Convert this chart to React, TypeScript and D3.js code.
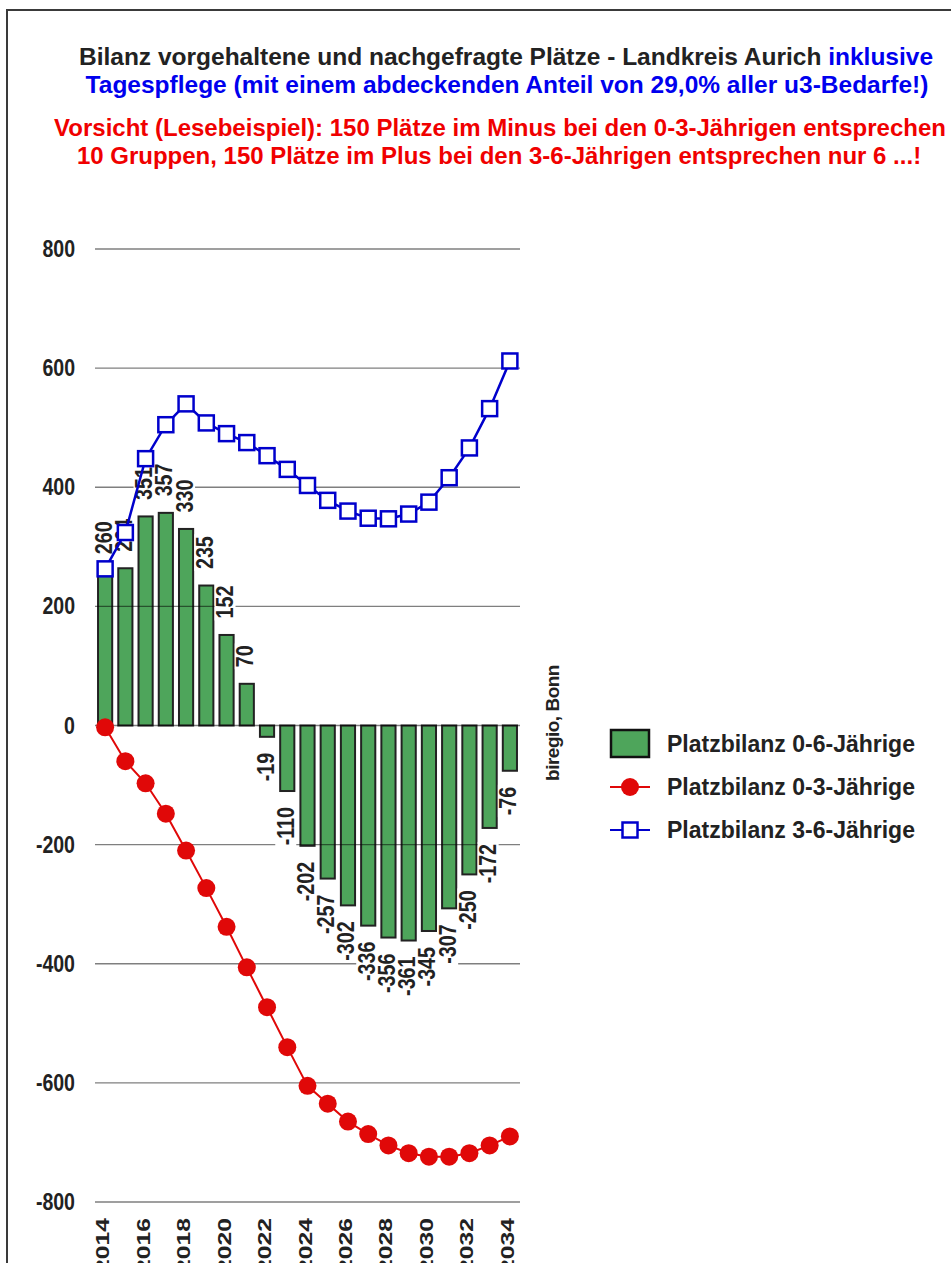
import React from 'react';
import * as d3 from 'd3';

const years = [2014, 2015, 2016, 2017, 2018, 2019, 2020, 2021, 2022, 2023, 2024, 2025, 2026, 2027, 2028, 2029, 2030, 2031, 2032, 2033, 2034];
const balance06 = [260, 264, 351, 357, 330, 235, 152, 70, -19, -110, -202, -257, -302, -336, -356, -361, -345, -307, -250, -172, -76];
const balance03 = [-3, -60, -97, -148, -210, -273, -338, -406, -473, -540, -605, -635, -665, -686, -705, -718, -724, -724, -718, -705, -690];
const balance36 = [263, 324, 448, 505, 540, 508, 490, 475, 453, 430, 403, 378, 360, 348, 347, 355, 375, 416, 466, 532, 612];
const yTicks = [800, 600, 400, 200, 0, -200, -400, -600, -800];
const xTickYears = [2014, 2016, 2018, 2020, 2022, 2024, 2026, 2028, 2030, 2032, 2034];
const titleBlack = 'Bilanz vorgehaltene und nachgefragte Plätze - Landkreis Aurich ';
const titleBlue1 = 'inklusive';
const titleBlue2 = 'Tagespflege (mit einem abdeckenden Anteil von 29,0% aller u3-Bedarfe!)';
const warn1 = 'Vorsicht (Lesebeispiel): 150 Plätze im Minus bei den 0-3-Jährigen entsprechen';
const warn2 = '10 Gruppen, 150 Plätze im Plus bei den 3-6-Jährigen entsprechen nur 6 ...!';
const legendLabels = ['Platzbilanz 0-6-Jährige', 'Platzbilanz 0-3-Jährige', 'Platzbilanz 3-6-Jährige'];
const sourceText = 'biregio, Bonn';

const FONT = '"Liberation Sans", Arial, Helvetica, sans-serif';
const GREEN = '#4ea55b';
const RED = '#e00808';
const BLUE = '#0000cc';

export default function App() {
  const W = 951;
  const H = 1263;
  const x = d3.scaleBand<number>().domain(years).range([95, 520]).paddingInner(0.3).paddingOuter(0.15);
  const y = d3.scaleLinear().domain([-800, 800]).range([1202, 249]);
  const bw = x.bandwidth();
  const cx = (yr: number) => (x(yr) as number) + bw / 2;

  const line = d3.line<[number, number]>().x(d => d[0]).y(d => d[1]);
  const redPts: [number, number][] = years.map((yr, i) => [cx(yr), y(balance03[i])]);
  const bluePts: [number, number][] = years.map((yr, i) => [cx(yr), y(balance36[i])]);

  const LF = 24;
  const LS = 0.82;
  const labelLen = (s: string) => {
    let em = 0;
    for (const ch of s) em += ch === '-' ? 0.333 : 0.556;
    return em * LF * LS;
  };

  return (
    <svg width={W} height={H} style={{ position: 'absolute', left: 0, top: 0, background: '#fff' }} fontFamily={FONT}>
      <rect x={0} y={0} width={W} height={H} fill="#fff" />
      {/* frame */}
      <line x1={7} y1={10} x2={W} y2={10} stroke="#3a3a3a" strokeWidth={2} />
      <line x1={7} y1={9} x2={7} y2={H} stroke="#3a3a3a" strokeWidth={2} />

      {/* titles */}
      <text x={506} y={65} textAnchor="middle" fontSize={24.5} fontWeight="bold" fill="#222">
        <tspan>{titleBlack}</tspan>
        <tspan fill="#0000ee">{titleBlue1}</tspan>
      </text>
      <text x={507} y={93} textAnchor="middle" fontSize={24.5} fontWeight="bold" fill="#0000ee">{titleBlue2}</text>
      <text x={500} y={136} textAnchor="middle" fontSize={24} fontWeight="bold" fill="#f00000">{warn1}</text>
      <text x={499} y={164} textAnchor="middle" fontSize={24} fontWeight="bold" fill="#f00000">{warn2}</text>

      {/* bars */}
      {years.map((yr, i) => {
        const v = balance06[i];
        const y0 = y(Math.max(0, v));
        const y1 = y(Math.min(0, v));
        return (
          <rect key={'b' + yr} x={x(yr)} y={y0} width={bw} height={Math.max(1, y1 - y0)}
            fill={GREEN} stroke="#222" strokeWidth={2} />
        );
      })}

      {/* gridlines */}
      {yTicks.map(t => (
        <line key={'g' + t} x1={95} x2={520} y1={y(t)} y2={y(t)} stroke="#000" strokeOpacity={0.5} strokeWidth={1.4} />
      ))}

      {/* y tick labels */}
      {yTicks.map(t => (
        <text key={'yt' + t} transform={`translate(75,${y(t) + 8}) scale(0.85,1)`} textAnchor="end"
          fontSize={23} fontWeight="bold" fill="#222">{t}</text>
      ))}

      {/* x tick labels */}
      {xTickYears.map(yr => (
        <g key={'xt' + yr} transform={`translate(${cx(yr) + 4},1218) rotate(-90)`}>
          <text transform="scale(1.3,1)" textAnchor="end" fontSize={19} fontWeight="bold" fill="#222">{yr}</text>
        </g>
      ))}

      {/* bar value labels */}
      {years.map((yr, i) => {
        const v = balance06[i];
        const s = String(v);
        const len = labelLen(s);
        const pos = v >= 0;
        const ay = pos ? y(v) - 16.5 : y(v) + 16;
        const bx = cx(yr) + 6.5;
        return (
          <g key={'l' + yr} transform={`translate(${bx},${ay}) rotate(-90)`}>
            <rect x={pos ? -2 : -len - 2} y={-18.5} width={len + 4} height={21} fill="#fff" />
            <text transform={`scale(${LS},1)`} textAnchor={pos ? 'start' : 'end'} fontSize={LF} fontWeight="bold" fill="#222">{s}</text>
          </g>
        );
      })}

      {/* 0-3 line */}
      <path d={line(redPts) || ''} fill="none" stroke={RED} strokeWidth={2} />
      {redPts.map((p, i) => (
        <circle key={'r' + i} cx={p[0]} cy={p[1]} r={9} fill={RED} />
      ))}

      {/* 3-6 line */}
      <path d={line(bluePts) || ''} fill="none" stroke={BLUE} strokeWidth={2.5} />
      {bluePts.map((p, i) => (
        <rect key={'s' + i} x={p[0] - 7.5} y={p[1] - 7.5} width={15} height={15} fill="#fff" stroke={BLUE} strokeWidth={2.5} />
      ))}

      {/* source */}
      <text transform="translate(559,723) rotate(-90)" textAnchor="middle" fontSize={19} fontWeight="bold" fill="#222" letterSpacing={-0.5}>{sourceText}</text>

      {/* legend */}
      <rect x={611} y={730} width={38} height={27} fill={GREEN} stroke="#111" strokeWidth={2.5} />
      <line x1={610} x2={650} y1={787} y2={787} stroke={RED} strokeWidth={2} />
      <circle cx={630} cy={787} r={9} fill={RED} />
      <line x1={610} x2={650} y1={830} y2={830} stroke={BLUE} strokeWidth={2} />
      <rect x={622.5} y={822.5} width={15} height={15} fill="#fff" stroke={BLUE} strokeWidth={2.5} />
      {legendLabels.map((l, i) => (
        <text key={'lg' + i} x={667} y={752 + i * 43} fontSize={23} fontWeight="bold" fill="#222">{l}</text>
      ))}
    </svg>
  );
}
